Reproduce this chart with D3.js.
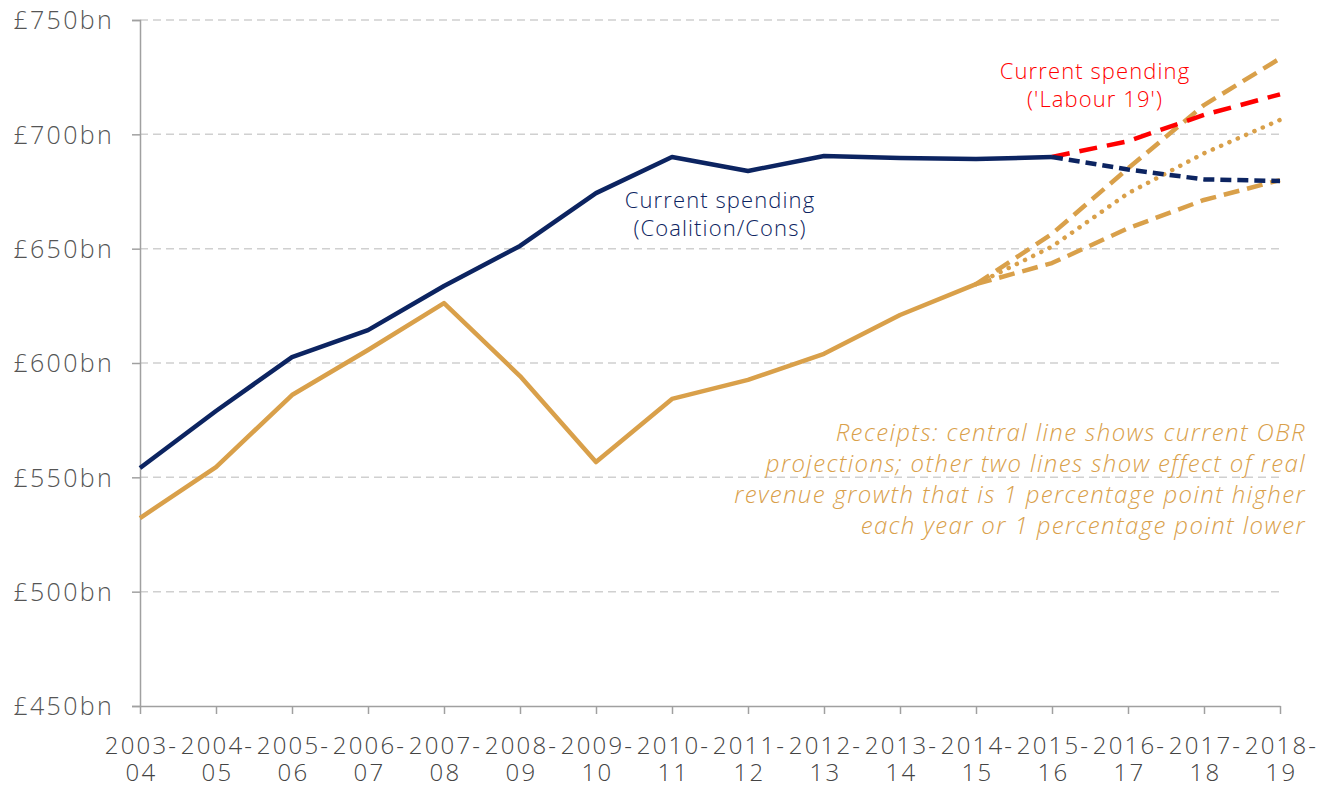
<!DOCTYPE html>
<html><head><meta charset="utf-8">
<script src="https://cdn.jsdelivr.net/npm/d3@7"></script>
<style>body{margin:0;background:#fff}svg{display:block}text{font-family:"Open Sans",Lato,sans-serif}</style>
</head><body>
<svg id="c" width="1327" height="787"></svg>
<script>
const years = ["2003-04","2004-05","2005-06","2006-07","2007-08","2008-09","2009-10","2010-11","2011-12","2012-13","2013-14","2014-15","2015-16","2016-17","2017-18","2018-19"];
const spending = [554.1,579,602.6,614.4,633.7,651.2,674.3,690.1,684,690.5,689.7,689.2,690.1,null,null,null];
const spendingCons = [null,null,null,null,null,null,null,null,null,null,null,null,690.1,684.6,680.3,679.6];
const spendingLabour = [null,null,null,null,null,null,null,null,null,null,null,null,690.1,697,708.5,717.5];
const receipts = [532.2,554.5,586,605.7,626.2,594.3,556.7,584.3,592.6,604,621,634.5,null,null,null,null];
const receiptsHigh = [null,null,null,null,null,null,null,null,null,null,null,634.5,656.5,685.1,712.8,733.2];
const receiptsCentral = [null,null,null,null,null,null,null,null,null,null,null,634.5,650.9,674.2,691.7,706.3];
const receiptsLow = [null,null,null,null,null,null,null,null,null,null,null,634.5,643.7,658.9,671.3,680];
const yTicks = [450,500,550,600,650,700,750];

const svg = d3.select("#c");
const x = d3.scalePoint().domain(years).range([140,1280]);
const y = d3.scaleLinear().domain([450,750]).range([706,20]);
const navy = "#0c2461", gold = "#d9a04a", red = "#ff0000";

svg.append("g").selectAll("line").data(yTicks.filter(d=>d>450)).join("line")
  .attr("x1",140).attr("x2",1280).attr("y1",d=>y(d)).attr("y2",d=>y(d))
  .attr("stroke","#d0d0d0").attr("stroke-width",1.5).attr("stroke-dasharray","8,5");

const ya = svg.append("g").attr("transform","translate(140,0)")
  .call(d3.axisLeft(y).tickValues(yTicks).tickSize(8).tickFormat(d=>"£"+d+"bn"));
ya.select(".domain").attr("stroke","#a0a0a0").attr("stroke-width",1.5);
ya.selectAll(".tick line").attr("stroke","#a0a0a0").attr("stroke-width",1.5);
ya.selectAll(".tick text").attr("x",-26).attr("font-size",25).attr("fill","#555").attr("font-weight",300)
  .attr("letter-spacing",2.3).attr("dy","0.35em");

const xa = svg.append("g").attr("transform","translate(0,706)")
  .call(d3.axisBottom(x).tickSize(8).tickSizeOuter(0).tickFormat(""));
xa.select(".domain").attr("stroke","#a0a0a0").attr("stroke-width",1.5);
xa.selectAll(".tick line").attr("stroke","#a0a0a0").attr("stroke-width",1.5);
xa.selectAll(".tick").each(function(d){
  const parts = d.split("-");
  const g = d3.select(this);
  g.append("text").attr("text-anchor","middle").attr("font-size",24).attr("fill","#444").attr("font-weight",300)
    .attr("letter-spacing",2.2).attr("x",1).attr("y",48).text(parts[0]+"-");
  g.append("text").attr("text-anchor","middle").attr("font-size",24).attr("fill","#444").attr("font-weight",300)
    .attr("letter-spacing",2.2).attr("x",1).attr("y",75).text(parts[1]);
});

const line = d3.line().defined(d=>d!=null).x((d,i)=>x(years[i])).y(d=>y(d));
function draw(data,color,dash,cap){
  svg.append("path").attr("d",line(data)).attr("fill","none").attr("stroke",color)
    .attr("stroke-width",4.5).attr("stroke-linejoin","round").attr("stroke-linecap",cap||"butt")
    .attr("stroke-dasharray",dash||null);
}
draw(receiptsLow,gold,"16,8");
draw(receiptsCentral,gold,"0.1,9","round");
draw(receiptsHigh,gold,"16,8");
draw(receipts,gold);
draw(spendingLabour,red,"18,10");
draw(spendingCons,navy,"11,6");
draw(spending,navy);

function label(lines,xc,y0,color,anchor,size,italic,lh,ls){
  const t = svg.append("text").attr("text-anchor",anchor).attr("fill",color).attr("font-size",size)
    .attr("font-weight",300).attr("font-style",italic?"italic":"normal").attr("letter-spacing",ls||0);
  lines.forEach((l,i)=>t.append("tspan").attr("x",xc).attr("y",y0+i*lh).text(l));
}
label(["Current spending","(Coalition/Cons)"],720,208,navy,"middle",22,false,28,1.1);
label(["Current spending","('Labour 19')"],1095,79,red,"middle",22,false,28,1.1);
label(["Receipts: central line shows current OBR","projections; other two lines show effect of real","revenue growth that is 1 percentage point higher","each year or 1 percentage point lower"],1306,441,gold,"end",24,true,31,1.4);
</script>
</body></html>
